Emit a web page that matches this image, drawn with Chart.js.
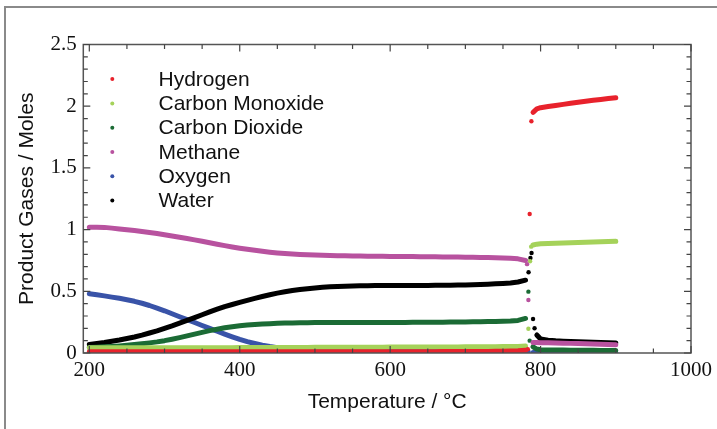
<!DOCTYPE html>
<html>
<head>
<meta charset="utf-8">
<script src="https://cdn.jsdelivr.net/npm/chart.js@4.4.1/dist/chart.umd.min.js"></script>
<style>
  html, body { margin: 0; padding: 0; background: #fff; }
  #wrap { width: 717px; height: 429px; position: relative; }
</style>
</head>
<body>
<div id="wrap"><canvas id="c" width="717" height="429"></canvas></div>
<script>
// ---------- DATA ----------
const seriesNames = ["Hydrogen", "Carbon Monoxide", "Carbon Dioxide", "Methane", "Oxygen", "Water"];
const seriesColors = ["#e8222c", "#a5d25a", "#1b6b35", "#b8529f", "#3953a8", "#000000"];

const xTickLabels = [200, 400, 600, 800, 1000];
const yTickLabels = [0, 0.5, 1, 1.5, 2, 2.5];

// Low-temperature branch temperatures (°C)
const tLow = [200,210,220,230,240,250,260,270,280,290,300,310,320,330,340,350,360,370,380,390,
              400,410,420,430,440,450,460,470,480,490,500,510,520,530,540,550,560,570,580,590,
              600,610,620,630,640,650,660,670,680,690,700,710,720,730,740,750,760,770,780];

const h2Low  = [0.010,0.010,0.010,0.010,0.010,0.010,0.010,0.010,0.010,0.010,0.010,0.010,0.010,0.010,0.010,0.010,0.010,0.010,0.010,0.010,
                0.010,0.010,0.010,0.010,0.010,0.010,0.010,0.010,0.010,0.010,0.010,0.010,0.010,0.010,0.010,0.010,0.010,0.010,0.010,0.010,
                0.010,0.010,0.011,0.011,0.011,0.011,0.011,0.012,0.012,0.012,0.012,0.013,0.013,0.013,0.014,0.015,0.016,0.018,0.022];
const coLow  = [0.042,0.042,0.042,0.042,0.042,0.042,0.042,0.042,0.042,0.042,0.042,0.042,0.042,0.043,0.043,0.043,0.043,0.043,0.043,0.043,
                0.044,0.044,0.044,0.044,0.044,0.045,0.045,0.045,0.045,0.045,0.046,0.046,0.046,0.046,0.046,0.047,0.047,0.047,0.047,0.047,
                0.048,0.048,0.048,0.048,0.048,0.049,0.049,0.049,0.049,0.049,0.050,0.050,0.050,0.051,0.051,0.052,0.052,0.053,0.056];
const co2Low = [0.045,0.047,0.050,0.053,0.057,0.062,0.068,0.075,0.082,0.090,0.100,0.112,0.125,0.139,0.153,0.167,0.181,0.193,0.204,0.213,
                0.220,0.226,0.231,0.235,0.238,0.241,0.243,0.244,0.245,0.246,0.247,0.247,0.248,0.248,0.248,0.248,0.248,0.248,0.248,0.248,
                0.248,0.248,0.248,0.249,0.249,0.249,0.250,0.250,0.251,0.252,0.252,0.253,0.254,0.255,0.256,0.258,0.260,0.264,0.280];
const ch4Low = [1.020,1.020,1.018,1.012,1.005,0.998,0.992,0.985,0.977,0.968,0.958,0.948,0.938,0.928,0.917,0.905,0.893,0.881,0.870,0.859,
                0.849,0.840,0.832,0.824,0.817,0.811,0.806,0.802,0.799,0.796,0.794,0.792,0.790,0.789,0.788,0.787,0.786,0.785,0.784,0.784,
                0.783,0.782,0.782,0.781,0.780,0.780,0.779,0.778,0.778,0.777,0.776,0.775,0.774,0.773,0.771,0.769,0.767,0.763,0.750];
const o2Low  = [0.480,0.472,0.463,0.453,0.443,0.432,0.419,0.403,0.385,0.364,0.342,0.318,0.294,0.270,0.247,0.223,0.199,0.176,0.153,0.131,
                0.110,0.092,0.077,0.063,0.052,0.043,0.036,0.030,0.026,0.023,0.021,0.020,0.020,0.019,0.019,0.019,0.018,0.018,0.018,0.018,
                0.018,0.017,0.017,0.017,0.017,0.017,0.016,0.016,0.016,0.016,0.016,0.016,0.015,0.015,0.015,0.015,0.015,0.015,0.015];
const h2oLow = [0.070,0.077,0.085,0.095,0.105,0.117,0.130,0.145,0.162,0.180,0.200,0.220,0.242,0.264,0.287,0.310,0.333,0.355,0.376,0.393,
                0.410,0.427,0.443,0.458,0.472,0.485,0.496,0.506,0.514,0.521,0.527,0.532,0.536,0.539,0.541,0.543,0.544,0.545,0.546,0.546,
                0.547,0.547,0.547,0.547,0.548,0.548,0.549,0.549,0.550,0.551,0.552,0.554,0.556,0.558,0.561,0.564,0.568,0.575,0.590];

// Isolated points during the ignition jump
const h2TransT  = [783.0, 785.5, 787.8];
const h2TransV  = [0.030, 1.126, 1.878];
const coTransT  = [783.8, 786.0, 787.5];
const coTransV  = [0.197, 0.743, 0.862];
const co2TransT = [783.8, 785.5];
const co2TransV = [0.497, 0.100];
const ch4TransT = [782.0, 783.8];
const ch4TransV = [0.720, 0.430];
const o2TransT  = [784.0];
const o2TransV  = [0.010];
const h2oTransT = [784.0, 786.5, 788.0, 790.0, 792.0];
const h2oTransV = [0.654, 0.770, 0.810, 0.275, 0.200];

// High-temperature branch temperatures (°C)
const tHigh = [790,795,800,810,820,830,840,850,860,870,880,890,900];

const h2High  = [1.950,1.978,1.988,1.997,2.006,2.015,2.024,2.032,2.040,2.048,2.055,2.062,2.068];
const coHigh  = [0.875,0.882,0.885,0.887,0.889,0.891,0.893,0.895,0.897,0.899,0.901,0.903,0.905];
const co2High = [0.050,0.032,0.027,0.025,0.024,0.024,0.023,0.023,0.022,0.022,0.021,0.021,0.020];
const ch4High = [0.085,0.085,0.084,0.083,0.081,0.080,0.078,0.076,0.074,0.072,0.070,0.068,0.066];
const o2High  = [0.005,0.005,0.005,0.004,0.004,0.004,0.004,0.004,0.003,0.003,0.003,0.003,0.003];
const h2oHigh = [null, 0.146,0.113,0.104,0.099,0.096,0.094,0.092,0.090,0.088,0.086,0.084,0.082];

// ---------- BUILD DATASETS ----------
const lows   = [h2Low, coLow, co2Low, ch4Low, o2Low, h2oLow];
const highs  = [h2High, coHigh, co2High, ch4High, o2High, h2oHigh];
const transT = [h2TransT, coTransT, co2TransT, ch4TransT, o2TransT, h2oTransT];
const transV = [h2TransV, coTransV, co2TransV, ch4TransV, o2TransV, h2oTransV];
// drawing priority (lower = on top)
const drawOrder = [0, 2, 3, 1, 5, 4];

function pts(xs, ys) {
  const out = [];
  for (let i = 0; i < xs.length; i++) if (ys[i] !== null) out.push({x: xs[i], y: ys[i]});
  return out;
}

const datasets = [];
for (let s = 0; s < seriesNames.length; s++) {
  const base = {
    borderColor: seriesColors[s], backgroundColor: seriesColors[s],
    order: drawOrder[s]
  };
  datasets.push(Object.assign({}, base, {
    label: seriesNames[s], data: pts(tLow, lows[s]), showLine: true,
    borderWidth: 5, pointRadius: 0, borderCapStyle: 'round', borderJoinStyle: 'round', tension: 0
  }));
  datasets.push(Object.assign({}, base, {
    label: seriesNames[s] + ' (high)', data: pts(tHigh, highs[s]), showLine: true,
    borderWidth: 5, pointRadius: 0, borderCapStyle: 'round', borderJoinStyle: 'round', tension: 0
  }));
  datasets.push(Object.assign({}, base, {
    label: seriesNames[s] + ' (jump)', data: pts(transT[s], transV[s]), showLine: false,
    pointRadius: 2.2, pointBorderWidth: 0, pointHoverRadius: 2.2
  }));
}

// ---------- PLUGIN: box, inward ticks, frame, legend ----------
const decor = {
  id: 'decor',
  afterDatasetsDraw(chart) {
    const {ctx, chartArea: a, scales: {x, y}} = chart;
    ctx.save();
    // outer grey frame (top and left)
    ctx.strokeStyle = '#8a8a8a';
    ctx.lineWidth = 2;
    ctx.beginPath();
    ctx.moveTo(5, 429); ctx.lineTo(5, 7); ctx.lineTo(717, 7);
    ctx.stroke();

    // axis box
    ctx.strokeStyle = '#555';
    ctx.lineWidth = 1.5;
    ctx.strokeRect(a.left, a.top, a.right - a.left, a.bottom - a.top);

    // inward ticks
    ctx.lineWidth = 1.2;
    ctx.strokeStyle = '#444';
    ctx.beginPath();
    for (let v = 200; v <= 1000; v += 50) {
      const px = x.getPixelForValue(v);
      const len = (v % 200 === 0) ? 7 : 4.5;
      ctx.moveTo(px, a.bottom); ctx.lineTo(px, a.bottom - len);
      ctx.moveTo(px, a.top); ctx.lineTo(px, a.top + len);
    }
    for (let k = 0; k <= 25; k++) {
      const v = k / 10;
      const py = y.getPixelForValue(v);
      const len = (k % 5 === 0) ? 7 : 4.5;
      ctx.moveTo(a.left, py); ctx.lineTo(a.left + len, py);
      ctx.moveTo(a.right, py); ctx.lineTo(a.right - len, py);
    }
    ctx.stroke();

    // legend
    ctx.font = '21px "Liberation Sans", Arial, sans-serif';
    ctx.textBaseline = 'alphabetic';
    ctx.textAlign = 'left';
    for (let s = 0; s < seriesNames.length; s++) {
      const baseY = 85.7 + s * 24.3;
      ctx.fillStyle = seriesColors[s];
      ctx.beginPath();
      ctx.arc(112.3, baseY - 6.6, 2, 0, Math.PI * 2);
      ctx.fill();
      ctx.fillStyle = '#111';
      ctx.fillText(seriesNames[s], 158.5, baseY);
    }
    ctx.restore();
  }
};

new Chart(document.getElementById('c'), {
  type: 'scatter',
  data: { datasets },
  plugins: [decor],
  options: {
    responsive: false,
    animation: false,
    events: [],
    layout: { padding: { top: 44.5, right: 20, left: 0, bottom: 0 } },
    plugins: { legend: { display: false }, tooltip: { enabled: false } },
    scales: {
      x: {
        type: 'linear', min: 192, max: 1000,
        afterFit: s => { s.height = 76; },
        afterBuildTicks: s => { s.ticks = xTickLabels.map(v => ({value: v})); },
        grid: { display: false, drawTicks: false },
        border: { display: false },
        ticks: {
          padding: 5, maxRotation: 0, autoSkip: false,
          callback: v => String(v),
          color: '#111', font: { family: '"Liberation Serif", "Times New Roman", serif', size: 21 }
        },
        title: {
          display: true, text: 'Temperature / °C', color: '#111',
          font: { family: '"Liberation Sans", Arial, sans-serif', size: 21 },
          padding: { top: 0, bottom: 13.7 }
        }
      },
      y: {
        type: 'linear', min: 0, max: 2.5,
        afterFit: s => { s.width = 83.3; },
        afterBuildTicks: s => { s.ticks = yTickLabels.map(v => ({value: v})); },
        grid: { display: false, drawTicks: false },
        border: { display: false },
        ticks: {
          padding: 6.5, autoSkip: false,
          callback: v => String(v),
          color: '#111', font: { family: '"Liberation Serif", "Times New Roman", serif', size: 21 }
        },
        title: {
          display: true, text: 'Product Gases / Moles', color: '#111',
          font: { family: '"Liberation Sans", Arial, sans-serif', size: 21 },
          padding: { top: 14.4, bottom: 0 }
        }
      }
    }
  }
});
</script>
</body>
</html>
